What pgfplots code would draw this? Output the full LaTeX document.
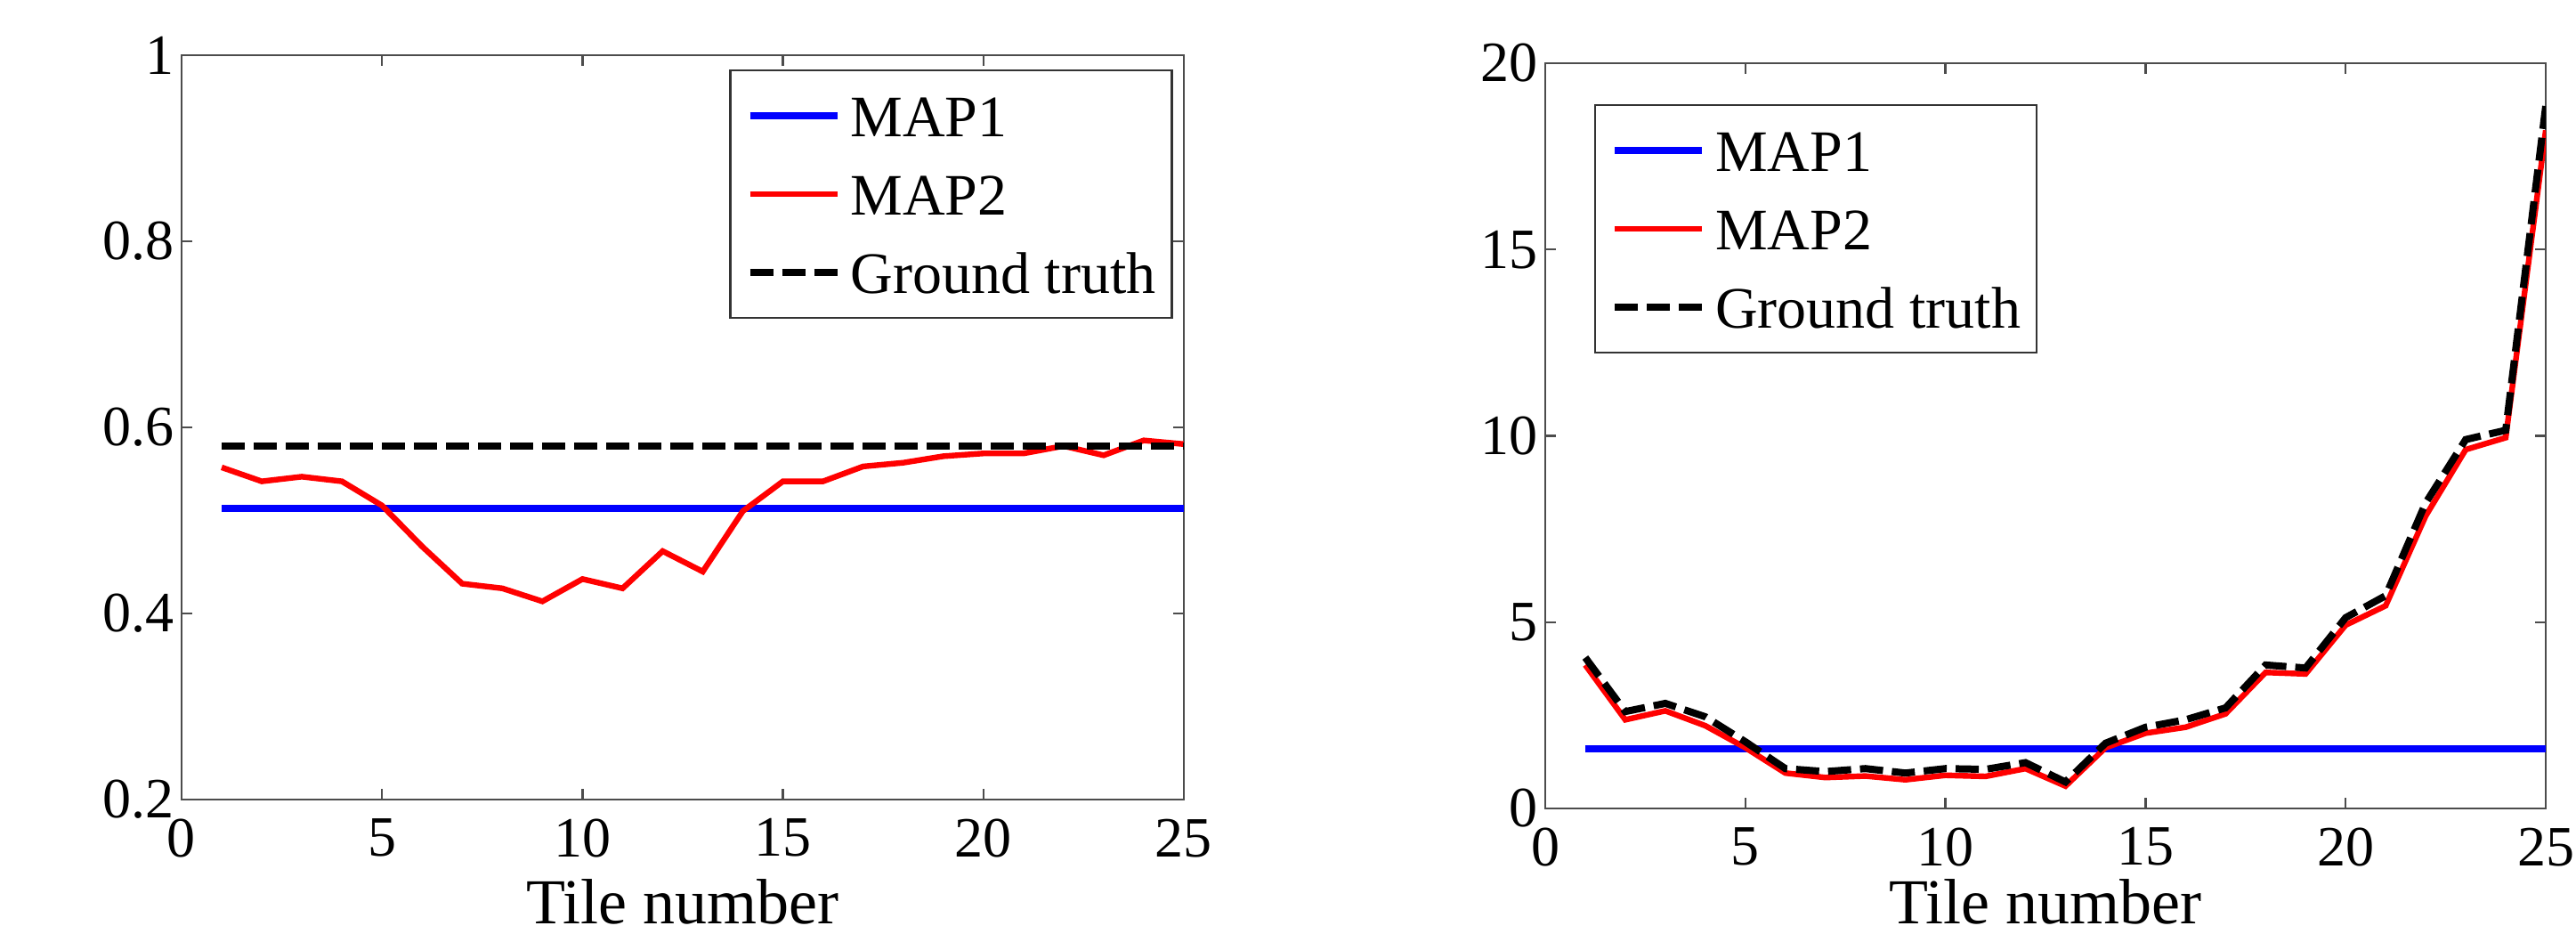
\documentclass[border=0pt]{standalone}
\usepackage{fontspec}
\setmainfont{Liberation Serif}
\usepackage{pgfplots}
\pgfplotsset{compat=1.18}

% MATLAB-like look shared by both panels
\pgfplotsset{
  matlab/.style={
    scale only axis,
    xmin=0, xmax=25, xtick={0,5,...,25},
    axis line style={draw=black!70, line width=0.6pt},
    tick style={draw=black!70, line width=0.6pt},
    major tick length=3pt,
    tick label style={font=\fontsize{16}{19}\selectfont},
    /pgf/number format/assume math mode=true,
    xticklabel style={yshift=-1.9pt},
    yticklabel style={xshift=1.3pt},
    xlabel={Tile number},
    xlabel style={font=\fontsize{18}{21}\selectfont, inner sep=0pt, text depth=0pt,
      at={(axis description cs:0.5,0)}, anchor=base, yshift=-35pt},
    legend style={draw=black!80, line width=0.6pt, font=\fontsize{16.5}{19}\selectfont,
      inner xsep=4.5pt, inner ysep=7pt, row sep=10.5pt, column sep=2.75pt,
      nodes={inner xsep=0pt, inner ysep=0pt, text height=11.5pt, text depth=0pt}},
    legend cell align=left,
    legend image code/.code={\draw[##1] (0pt,0pt) -- (24.5pt,0pt);},
  },
  map1/.style={color=blue, line width=2pt},
  map2/.style={color=red, line width=1.6pt},
  gt/.style={color=black, line width=2pt, dash pattern=on 6.5pt off 2.5pt},
}

\begin{document}
\begin{tikzpicture}
\path[use as bounding box] (0,0) rectangle (723.5pt,262.25pt);

\begin{axis}[matlab,
  at={(51pt,37.75pt)}, anchor=south west,
  width=281.5pt, height=209pt,
  ymin=0.2, ymax=1, ytick={0.2,0.4,0.6,0.8,1},
  legend style={at={(0.989,0.981)}, anchor=north east},
]
\addplot[map1] coordinates {(1,0.513) (25,0.513)};
\addlegendentry{MAP1}
\addplot[map2] coordinates {
  (1,0.557) (2,0.542) (3,0.547) (4,0.542) (5,0.516) (6,0.472) (7,0.432)
  (8,0.427) (9,0.413) (10,0.437) (11,0.427) (12,0.467) (13,0.445) (14,0.510)
  (15,0.542) (16,0.542) (17,0.558) (18,0.562) (19,0.569) (20,0.572) (21,0.572)
  (22,0.580) (23,0.570) (24,0.586) (25,0.582)
};
\addlegendentry{MAP2}
\addplot[gt] coordinates {(1,0.58) (25,0.58)};
\addlegendentry{Ground truth}
\end{axis}

\begin{axis}[matlab,
  at={(434pt,35.25pt)}, anchor=south west,
  width=281pt, height=209.25pt,
  ymin=0, ymax=20, ytick={0,5,...,20},
  xlabel style={yshift=2.5pt},
  legend style={at={(0.049,0.945)}, anchor=north west},
]
\addplot[map1] coordinates {(1,1.6) (25,1.6)};
\addlegendentry{MAP1}
\addplot[map2] coordinates {
  (1,3.85) (2,2.38) (3,2.62) (4,2.22) (5,1.63) (6,0.95) (7,0.83) (8,0.87)
  (9,0.77) (10,0.89) (11,0.86) (12,1.07) (13,0.60) (14,1.63) (15,2.02)
  (16,2.18) (17,2.54) (18,3.65) (19,3.61) (20,4.92) (21,5.44) (22,7.85)
  (23,9.63) (24,9.95) (25,18.2)
};
\addlegendentry{MAP2}
\addplot[gt] coordinates {
  (1,4.05) (2,2.60) (3,2.82) (4,2.46) (5,1.79) (6,1.07) (7,0.99) (8,1.07)
  (9,0.95) (10,1.07) (11,1.05) (12,1.23) (13,0.71) (14,1.75) (15,2.18)
  (16,2.38) (17,2.70) (18,3.85) (19,3.77) (20,5.12) (21,5.71) (22,8.20)
  (23,9.90) (24,10.15) (25,18.85)
};
\addlegendentry{Ground truth}
\end{axis}
\end{tikzpicture}
\end{document}
